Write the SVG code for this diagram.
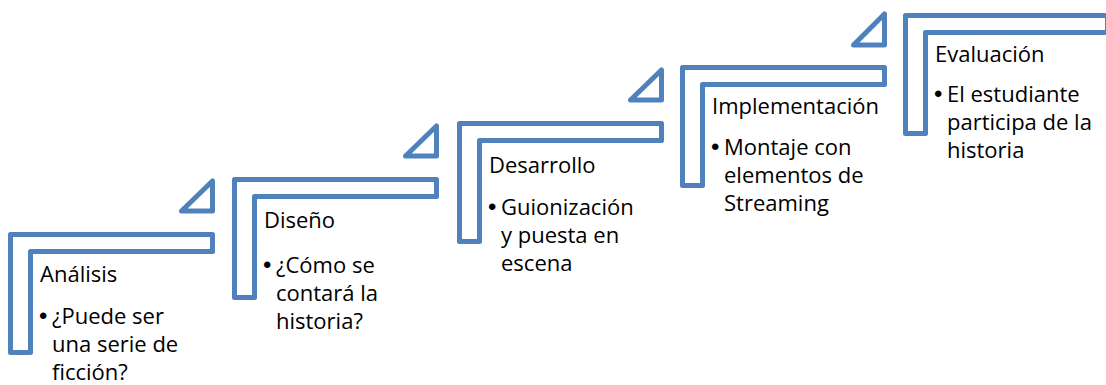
<svg xmlns="http://www.w3.org/2000/svg" width="1106" height="385" viewBox="0 0 1106 385">
<style>
.step{fill:#FFFFFF;stroke:#4F81BD;stroke-width:5;stroke-linejoin:round}
.tri{fill:#FFFFFF;stroke:#4F81BD;stroke-width:5;stroke-linejoin:round}
text{font-family:"Open Sans","Noto Sans","Liberation Sans",sans-serif;font-size:22px;fill:#000000}
text.b{font-family:"Liberation Sans","DejaVu Sans",sans-serif;font-size:24px}
</style>
<rect width="1106" height="385" fill="#FFFFFF"/>
<g id="connectors"></g>
<g id="step1">
<path class="step" d="M10.5,234.5 H212.5 V251.5 H30.5 V352.5 H10.5 Z"/>
<polygon class="tri" points="212.5,181 212.5,211 181.5,211"/>
<text x="40" y="282">Análisis</text>
<text class="b" x="39" y="324">•</text>
<text x="52" y="324">¿Puede ser</text>
<text x="52" y="352">una serie de</text>
<text x="52" y="380">ficción?</text>
</g>
<g id="step2">
<path class="step" d="M234.5,179.5 H436.5 V196.5 H254.5 V297.5 H234.5 Z"/>
<polygon class="tri" points="436.5,126 436.5,156 405.5,156"/>
<text x="264" y="228">Diseño</text>
<text class="b" x="263" y="273">•</text>
<text x="276" y="273">¿Cómo se</text>
<text x="276" y="301">contará la</text>
<text x="276" y="329">historia?</text>
</g>
<g id="step3">
<path class="step" d="M459.5,123.5 H661.5 V140.5 H479.5 V241.5 H459.5 Z"/>
<polygon class="tri" points="661.5,70 661.5,100 630.5,100"/>
<text x="489" y="173">Desarrollo</text>
<text class="b" x="488" y="215">•</text>
<text x="501" y="215">Guionización</text>
<text x="501" y="243">y puesta en</text>
<text x="501" y="271">escena</text>
</g>
<g id="step4">
<path class="step" d="M682.5,67.5 H884.5 V84.5 H702.5 V185.5 H682.5 Z"/>
<polygon class="tri" points="884.5,14 884.5,45 853.5,45"/>
<text x="712" y="114">Implementación</text>
<text class="b" x="711" y="155">•</text>
<text x="724" y="155">Montaje con</text>
<text x="724" y="183">elementos de</text>
<text x="724" y="211">Streaming</text>
</g>
<g id="step5">
<path class="step" d="M905.5,15.5 H1107.5 V32.5 H925.5 V133.5 H905.5 Z"/>
<text x="935" y="62">Evaluación</text>
<text class="b" x="934" y="102">•</text>
<text x="947" y="102">El estudiante</text>
<text x="947" y="130">participa de la</text>
<text x="947" y="158">historia</text>
</g>
</svg>
